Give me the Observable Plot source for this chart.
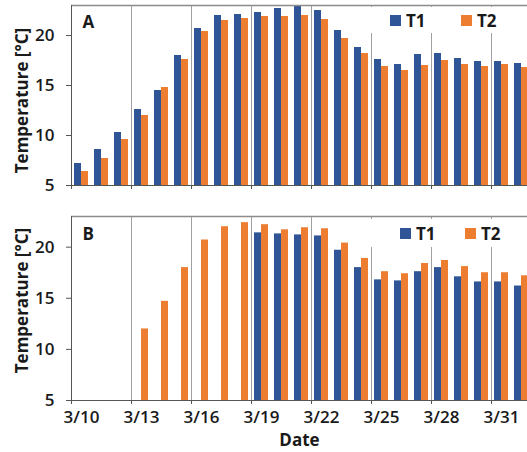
<!DOCTYPE html>
<html>
<head>
<meta charset="utf-8">
<script src="https://cdn.jsdelivr.net/npm/d3@7"></script>
<script src="https://cdn.jsdelivr.net/npm/@observablehq/plot@0.6"></script>
<style>
  body { margin: 0; background: #fff; font-family: "Open Sans", sans-serif; }
  #chart { position: relative; width: 527px; height: 452px; overflow: hidden; }
  #chart svg { display: block; font-weight: 600; }
  .legend { position: absolute; background: #fff; font-weight: 700; font-size: 17px; color: #1a1a1a; }
  .item { position: absolute; top: 0; bottom: 0; display: flex; align-items: center; white-space: nowrap; }
  .sw { display: inline-block; width: 11px; height: 11px; margin-right: 5px; }
</style>
</head>
<body>
<div id="chart"></div>
<script>
// Daily temperatures, 3/10 – 4/1
const dates = ["3/10","3/11","3/12","3/13","3/14","3/15","3/16","3/17","3/18","3/19","3/20","3/21",
               "3/22","3/23","3/24","3/25","3/26","3/27","3/28","3/29","3/30","3/31","4/1"];

// Panel A
const t1A = [7.2, 8.6, 10.3, 12.6, 14.5, 18.0, 20.7, 22.0, 22.1, 22.3, 22.7, 22.9,
             22.5, 20.5, 18.8, 17.6, 17.1, 18.1, 18.2, 17.7, 17.4, 17.4, 17.2];
const t2A = [6.4, 7.7, 9.6, 12.0, 14.8, 17.6, 20.4, 21.5, 21.7, 21.9, 21.9, 22.0,
             21.6, 19.7, 18.2, 16.9, 16.5, 17.0, 17.5, 17.1, 16.9, 17.1, 16.8];

// Panel B (no readings before the sensors were placed)
const t1B = [null, null, null, null, null, null, null, null, null, 21.4, 21.3, 21.2,
             21.1, 19.7, 18.0, 16.8, 16.7, 17.6, 18.0, 17.1, 16.6, 16.6, 16.2];
const t2B = [null, null, null, 12.0, 14.7, 18.0, 20.7, 22.0, 22.4, 22.2, 21.7, 21.9,
             21.8, 20.4, 18.9, 17.6, 17.4, 18.4, 18.7, 18.1, 17.5, 17.5, 17.2];

const series = ["T1", "T2"];
const colors = ["#2f5597", "#ed7d31"];
const yTicks = [5, 10, 15, 20];
const yDomain = [5, 23];
const yLabel = "Temperature [°C]";
const xLabel = "Date";

// every third day gets a tick and a label
const tickDays = d3.range(0, dates.length, 3);
const labelDays = tickDays.filter(i => i < dates.length - 1).map(i => ({i, label: dates[i]}));
const gridDays = tickDays.filter(i => i > 0);

function panel({t1, t2, letter, height, marginTop, marginBottom, labelShift, letterDy, showDates}) {
  const rows = [];
  dates.forEach((d, i) => {
    if (t1[i] != null) rows.push({i, s: 0, v: t1[i]});
    if (t2[i] != null) rows.push({i, s: 1, v: t2[i]});
  });
  const ink = "#1a1a1a";
  return Plot.plot({
    width: 527,
    height,
    marginLeft: 71,
    marginRight: 0,
    marginTop,
    marginBottom,
    style: {fontFamily: "Open Sans", fontSize: "16px", color: ink, background: "transparent"},
    x: {type: "linear", domain: [0, 22.8]},
    y: {domain: yDomain},
    marks: [
      Plot.gridX(gridDays, {stroke: "#a0a0a0", strokeOpacity: 1}),
      Plot.rect(rows, {
        x1: d => d.i + (d.s ? 0.5 : 0.15),
        x2: d => d.i + (d.s ? 0.85 : 0.5),
        y1: yDomain[0],
        y2: "v",
        fill: d => colors[d.s]
      }),
      Plot.ruleY([yDomain[1]], {stroke: "#8c8c8c", strokeWidth: 1.5}),
      Plot.ruleY([yDomain[0]], {stroke: "#555"}),
      Plot.ruleX([0], {stroke: "#555"}),
      Plot.axisY({ticks: yTicks, tickSize: 5, tickPadding: 12, label: null, stroke: "#555", fontSize: 17}),
      Plot.axisX({ticks: tickDays, tickSize: 4, tickFormat: () => "", label: null, stroke: "#555"}),
      Plot.text([letter], {frameAnchor: "top-left", dx: 11, dy: letterDy, lineAnchor: "top",
                           textAnchor: "start", fontSize: 17, fontWeight: 700, fill: ink}),
      Plot.text([yLabel], {frameAnchor: "left", rotate: -90, dx: -49, dy: labelShift,
                           textAnchor: "middle", lineAnchor: "middle",
                           fontSize: 17, fontWeight: 700, fill: ink}),
      showDates ? Plot.text(labelDays, {x: d => d.i + 0.5, frameAnchor: "bottom", dy: 22,
                                        text: "label", fontSize: 17, fontWeight: 600, fill: ink}) : null,
      showDates ? Plot.text([xLabel], {frameAnchor: "bottom", dy: 45, fontSize: 17,
                                       fontWeight: 700, fill: ink}) : null
    ]
  });
}

function legend(box, offsets) {
  const div = document.createElement("div");
  div.className = "legend";
  Object.assign(div.style, box);
  series.forEach((name, k) => {
    const item = document.createElement("div");
    item.className = "item";
    item.style.left = offsets[k] + "px";
    item.innerHTML = `<span class="sw" style="background:${colors[k]}"></span>${name}`;
    div.appendChild(item);
  });
  return div;
}

const chart = document.getElementById("chart");
chart.appendChild(panel({t1: t1A, t2: t2A, letter: "A", height: 205, marginTop: 5, marginBottom: 20,
                         labelShift: 5, letterDy: 10, showDates: false}));
chart.appendChild(panel({t1: t1B, t2: t2B, letter: "B", height: 247, marginTop: 11, marginBottom: 52,
                         labelShift: -8, letterDy: 11, showDates: true}));
chart.appendChild(legend({left: "365px", top: "7px", width: "162px", height: "26px"}, [25, 96]));
chart.appendChild(legend({left: "365px", top: "219px", width: "162px", height: "28px"}, [35, 100]));
</script>
</body>
</html>
